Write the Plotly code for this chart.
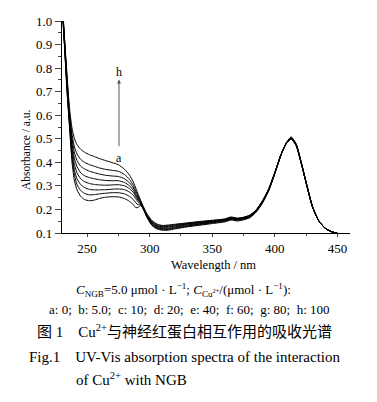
import plotly.graph_objects as go

wavelength = [230, 232, 234, 236, 238, 240, 242, 245, 248, 252, 256, 260, 265, 270, 275, 280,
              284, 287, 289, 291, 293, 295, 298, 302, 306,
              310, 315, 320, 330, 340, 350, 360, 365, 370, 375, 380, 385, 390, 395, 400,
              405, 409, 413, 417, 421, 425, 430, 435, 440, 445, 450]

curve_labels = ["a", "b", "c", "d", "e", "f", "g", "h"]
cu_conc = [0, 5.0, 10, 20, 40, 60, 80, 100]

abs_a = [1.07, 0.89, 0.70, 0.55, 0.40, 0.320, 0.283, 0.255, 0.242, 0.237, 0.240, 0.247, 0.252, 0.254, 0.253, 0.246,
         0.234, 0.220, 0.207, 0.210, 0.216, 0.200, 0.165, 0.131, 0.117,
         0.112, 0.112, 0.117, 0.126, 0.133, 0.140, 0.147, 0.155, 0.151, 0.156, 0.165, 0.188, 0.226, 0.278, 0.352,
         0.433, 0.482, 0.508, 0.478, 0.402, 0.316, 0.214, 0.153, 0.121, 0.106, 0.098]
abs_b = [1.07, 0.90, 0.71, 0.56, 0.42, 0.345, 0.305, 0.280, 0.268, 0.262, 0.263, 0.266, 0.269, 0.271, 0.271, 0.266,
         0.255, 0.242, 0.228, 0.220, 0.220, 0.202, 0.166, 0.133, 0.120,
         0.115, 0.115, 0.120, 0.129, 0.136, 0.143, 0.150, 0.158, 0.154, 0.158, 0.167, 0.190, 0.228, 0.280, 0.353,
         0.433, 0.481, 0.506, 0.477, 0.401, 0.315, 0.213, 0.153, 0.121, 0.106, 0.098]
abs_c = [1.08, 0.90, 0.72, 0.57, 0.44, 0.365, 0.330, 0.305, 0.293, 0.285, 0.283, 0.283, 0.284, 0.286, 0.287, 0.284,
         0.273, 0.260, 0.245, 0.230, 0.222, 0.203, 0.168, 0.136, 0.122,
         0.118, 0.118, 0.123, 0.131, 0.138, 0.145, 0.152, 0.160, 0.156, 0.160, 0.169, 0.192, 0.230, 0.281, 0.354,
         0.434, 0.481, 0.504, 0.476, 0.400, 0.314, 0.213, 0.152, 0.121, 0.106, 0.098]
abs_d = [1.08, 0.91, 0.73, 0.58, 0.46, 0.390, 0.355, 0.330, 0.318, 0.310, 0.306, 0.304, 0.303, 0.304, 0.305, 0.300,
         0.288, 0.272, 0.254, 0.237, 0.225, 0.204, 0.170, 0.139, 0.125,
         0.121, 0.121, 0.126, 0.134, 0.140, 0.147, 0.154, 0.162, 0.158, 0.162, 0.171, 0.193, 0.231, 0.282, 0.355,
         0.434, 0.480, 0.503, 0.475, 0.399, 0.313, 0.212, 0.152, 0.121, 0.106, 0.099]
abs_e = [1.09, 0.91, 0.74, 0.59, 0.48, 0.415, 0.382, 0.355, 0.343, 0.335, 0.330, 0.326, 0.323, 0.322, 0.322, 0.314,
         0.300, 0.281, 0.260, 0.242, 0.227, 0.205, 0.172, 0.142, 0.128,
         0.124, 0.125, 0.129, 0.137, 0.143, 0.149, 0.156, 0.164, 0.160, 0.164, 0.172, 0.195, 0.233, 0.284, 0.356,
         0.434, 0.480, 0.502, 0.474, 0.398, 0.313, 0.212, 0.152, 0.121, 0.106, 0.099]
abs_f = [1.09, 0.92, 0.75, 0.60, 0.50, 0.440, 0.408, 0.383, 0.372, 0.362, 0.356, 0.350, 0.345, 0.342, 0.340, 0.330,
         0.313, 0.291, 0.268, 0.248, 0.229, 0.206, 0.174, 0.145, 0.131,
         0.127, 0.128, 0.132, 0.139, 0.145, 0.151, 0.157, 0.165, 0.161, 0.165, 0.174, 0.196, 0.234, 0.285, 0.357,
         0.434, 0.479, 0.500, 0.472, 0.397, 0.312, 0.211, 0.152, 0.121, 0.106, 0.099]
abs_g = [1.10, 0.92, 0.76, 0.61, 0.52, 0.465, 0.435, 0.412, 0.400, 0.390, 0.383, 0.376, 0.370, 0.366, 0.362, 0.348,
         0.327, 0.302, 0.278, 0.254, 0.232, 0.208, 0.176, 0.148, 0.134,
         0.130, 0.131, 0.135, 0.141, 0.147, 0.152, 0.158, 0.166, 0.162, 0.166, 0.175, 0.197, 0.235, 0.286, 0.357,
         0.434, 0.479, 0.499, 0.471, 0.396, 0.311, 0.211, 0.152, 0.121, 0.106, 0.099]
abs_h = [1.10, 0.93, 0.77, 0.63, 0.545, 0.500, 0.475, 0.455, 0.443, 0.432, 0.424, 0.416, 0.407, 0.399, 0.390, 0.370,
         0.345, 0.316, 0.290, 0.262, 0.236, 0.212, 0.180, 0.152, 0.138,
         0.132, 0.134, 0.137, 0.143, 0.149, 0.154, 0.160, 0.168, 0.163, 0.167, 0.176, 0.198, 0.236, 0.287, 0.358,
         0.434, 0.479, 0.498, 0.470, 0.396, 0.311, 0.211, 0.152, 0.121, 0.106, 0.099]

series = [abs_a, abs_b, abs_c, abs_d, abs_e, abs_f, abs_g, abs_h]

x_ticks = [250, 300, 350, 400, 450]
y_ticks = [0.1, 0.2, 0.3, 0.4, 0.5, 0.6, 0.7, 0.8, 0.9, 1.0]

SERIF = "Liberation Serif, Times New Roman, serif"
CJK = "Liberation Serif, Noto Sans CJK SC, serif"

fig = go.Figure()
for lab, ys in zip(curve_labels, series):
    fig.add_trace(go.Scatter(x=wavelength, y=ys, mode="lines", name=lab,
                             line=dict(color="black", width=1, shape="spline", smoothing=0.6),
                             hoverinfo="skip"))

W, H = 377, 402
L, R, T, B = 62, 27, 21, 169
pw, ph = W - L - R, H - T - B

def px(x):
    return (x - L) / pw

def py(y):
    return (H - B - y) / ph

fig.update_layout(
    width=W, height=H,
    margin=dict(l=L, r=R, t=T, b=B),
    paper_bgcolor="white", plot_bgcolor="white",
    showlegend=False,
    font=dict(family=SERIF, color="black"),
)
fig.update_xaxes(range=[230, 460], tickvals=x_ticks, ticks="outside", ticklen=3, tickwidth=1,
                 showline=True, linecolor="black", linewidth=1.3, showgrid=False, zeroline=False,
                 tickfont=dict(size=13, family=SERIF),
                 minor=dict(dtick=25, tick0=225, ticks="outside", ticklen=2, tickwidth=1, showgrid=False))
fig.update_yaxes(range=[0.1, 1.0], tickvals=y_ticks, ticktext=[f"{v:.1f}" for v in y_ticks],
                 ticks="outside", ticklen=6, tickwidth=1,
                 showline=True, linecolor="black", linewidth=1.3, showgrid=False, zeroline=False,
                 tickfont=dict(size=13, family=SERIF),
                 minor=dict(dtick=0.05, tick0=0.05, ticks="outside", ticklen=3, tickwidth=1, showgrid=False))

# arrow a -> h
fig.add_annotation(x=275.5, y=0.752, ax=275.5, ay=0.462, xref="x", yref="y", axref="x", ayref="y",
                   showarrow=True, arrowhead=2, arrowsize=0.8, arrowwidth=1, arrowcolor="#555555", text="")
fig.add_annotation(x=275.5, y=0.785, xref="x", yref="y", text="h", showarrow=False,
                   xanchor="center", yanchor="middle", font=dict(size=12, family=SERIF))
fig.add_annotation(x=275.5, y=0.418, xref="x", yref="y", text="a", showarrow=False,
                   xanchor="center", yanchor="middle", font=dict(size=12, family=SERIF))

def note(xp, yp, text, size, family=SERIF, anchor="center", angle=0):
    fig.add_annotation(x=px(xp), y=py(yp), xref="paper", yref="paper", text=text,
                       textangle=angle, showarrow=False, xanchor=anchor, yanchor="middle",
                       font=dict(size=size, family=family))

SP = "\u2002"

# axis titles
note(26, 150, "Absorbance / a.u.", 11.5, angle=-90)
note(213, 265, "Wavelength / nm", 12.5)

# caption lines
note(183, 290, "<i>C</i><sub>NGB</sub>=5.0 μmol · L<sup>−1</sup>; <i>C</i><sub>Cu<sup>2+</sup></sub>/(μmol · L<sup>−1</sup>):", 13)
note(189, 309, f"a: 0;{SP}b: 5.0;{SP}c: 10;{SP}d: 20;{SP}e: 40;{SP}f: 60;{SP}g: 80;{SP}h: 100", 13)
note(35, 331, "图 1" + SP * 2 + "Cu<sup>2+</sup>与神经红蛋白相互作用的吸收光谱", 15, family=CJK, anchor="left")
note(27, 357, "Fig.1" + SP * 2 + "UV-Vis absorption spectra of the interaction", 15, anchor="left")
note(74, 379, "of Cu<sup>2+</sup> with NGB", 15, anchor="left")

fig.write_html("out.html", config={"displayModeBar": False},
               post_script="document.body.style.margin='0';document.body.style.padding='0';")
